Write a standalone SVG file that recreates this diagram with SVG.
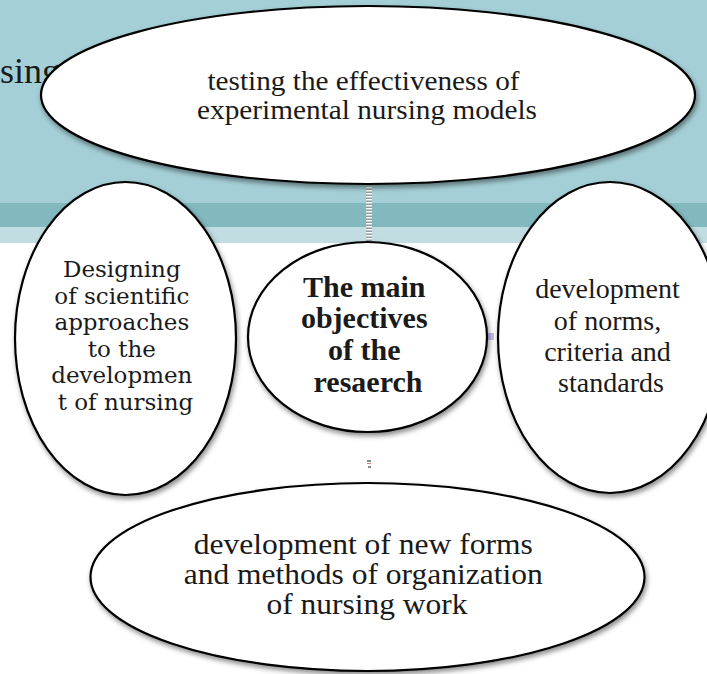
<svg xmlns="http://www.w3.org/2000/svg" width="707" height="674" viewBox="0 0 707 674">
  <style>
    .node { fill: #ffffff; stroke: #000000; stroke-width: 2.2; filter: url(#shadow); }
    .t { font-family: "Liberation Serif", "Times New Roman", serif; fill: #1a1a1a; text-anchor: middle; }
    .g { font-family: "DejaVu Serif", Georgia, serif; fill: #1a1a1a; text-anchor: middle; }
  </style>
  <defs>
    <filter id="shadow" x="-10%" y="-10%" width="120%" height="130%">
      <feDropShadow dx="1.5" dy="3" stdDeviation="2.5" flood-color="#000000" flood-opacity="0.45"/>
    </filter>
  </defs>

  <g id="background">
    <rect x="0" y="0" width="707" height="674" fill="#ffffff"/>
    <rect x="0" y="0" width="707" height="203" fill="#a4cfd6"/>
    <rect x="0" y="203" width="707" height="24" fill="#82b9bf"/>
    <rect x="0" y="227" width="707" height="16" fill="#c2dde1"/>
    <text x="0" y="83" font-family="Liberation Serif, serif" font-size="36" fill="#1a1a1a">sing</text>
  </g>

  <g id="connectors">
    <line x1="369" y1="187" x2="369" y2="246" stroke="#8f9a9c" stroke-width="6"/>
    <line x1="369" y1="187" x2="369" y2="246" stroke="#ffffff" stroke-width="6" stroke-dasharray="1.5 1.5"/>
    <rect x="484" y="333" width="10" height="7" fill="#b9b2e6" opacity="0.8"/>
    <rect x="367" y="460" width="4" height="2" fill="#8a8a8a"/>
    <rect x="367" y="463" width="4" height="1" fill="#e08080"/>
    <rect x="368" y="466" width="3" height="2" fill="#8a8a8a"/>
  </g>

  <g id="node-left">
    <ellipse class="node" cx="125.5" cy="338.5" rx="110.5" ry="156.5"/>
    <text class="g" font-size="23">
      <tspan x="125.5" y="277">Designing</tspan>
      <tspan x="125.5" y="303.5">of scientific</tspan>
      <tspan x="125.5" y="330">approaches</tspan>
      <tspan x="125.5" y="356.5">to the</tspan>
      <tspan x="125.5" y="383">developmen</tspan>
      <tspan x="125.5" y="409.5">t of nursing</tspan>
    </text>
  </g>

  <g id="node-right">
    <ellipse class="node" cx="610" cy="337.5" rx="112" ry="155.5"/>
    <text class="t" font-size="28">
      <tspan x="611" y="298">development</tspan>
      <tspan x="611" y="329.5">of norms,</tspan>
      <tspan x="611" y="361">criteria and</tspan>
      <tspan x="611" y="391.5">standards</tspan>
    </text>
  </g>

  <g id="node-center">
    <ellipse class="node" cx="367.5" cy="337" rx="119.5" ry="95"/>
    <text class="t" font-size="30" font-weight="bold">
      <tspan x="368" y="296.5">The main</tspan>
      <tspan x="368" y="328">objectives</tspan>
      <tspan x="368" y="360">of the</tspan>
      <tspan x="368" y="391.5">resaerch</tspan>
    </text>
  </g>

  <g id="node-top">
    <ellipse class="node" cx="368" cy="95" rx="327" ry="89"/>
    <text class="t" font-size="28">
      <tspan x="367" y="90" textLength="312" lengthAdjust="spacingAndGlyphs">testing the effectiveness of</tspan>
      <tspan x="367" y="118.5" textLength="340" lengthAdjust="spacingAndGlyphs">experimental nursing models</tspan>
    </text>
  </g>

  <g id="node-bottom">
    <ellipse class="node" cx="367.5" cy="577" rx="277" ry="94"/>
    <text class="t" font-size="30">
      <tspan x="367" y="553.5" textLength="339" lengthAdjust="spacingAndGlyphs">development of new forms</tspan>
      <tspan x="367" y="583.5" textLength="359" lengthAdjust="spacingAndGlyphs">and methods of organization</tspan>
      <tspan x="367" y="613.5" textLength="201" lengthAdjust="spacingAndGlyphs">of nursing work</tspan>
    </text>
  </g>
</svg>
